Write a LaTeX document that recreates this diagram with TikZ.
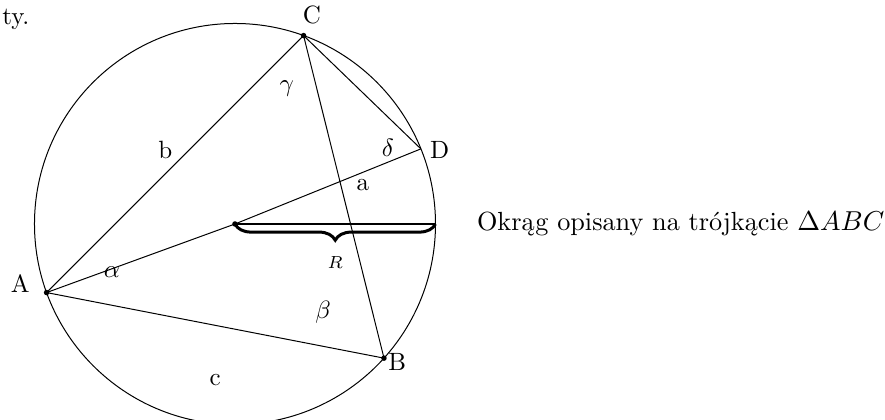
\documentclass[tikz,border=0pt]{standalone}
\usepackage{fontspec}
\usepackage{amsmath, amssymb}
\usetikzlibrary{positioning}
\usetikzlibrary{decorations.pathreplacing}

\begin{document}
\begin{tikzpicture}[
                punkt/.style = {fill=black},
                klamra/.style = {decorate, decoration={brace, mirror, amplitude=6.5pt}, very thick},
                % Styl dla etykiet katow
                kat/.style = {font=\normalsize}
                ]
                \useasboundingbox (-3.305,-2.743) rectangle (9.142,3.150);

                % --- Okrag i punkty ---
                \def\R{2.82}
                \coordinate (O) at (0,0);
                \coordinate (E) at (0:\R);
                \foreach \p/\k in {A/200, C/70, B/-42, D/22} {
                    \coordinate (\p) at (\k:\R);
                }
                \draw (O) circle (\R);

                % --- Boki trojkata ---
                \draw (A) -- (C) -- (B) -- cycle;
                \draw (C) -- (D);
                \draw (A) -- (O) -- (D);

                % --- Promien R ---
                \draw[thick] (O) -- (E);
                \draw[klamra] (O) -- (E) node[midway, below=9pt, font=\scriptsize] (r) {$R$};

                % --- Punkty ---
                \foreach \p in {A, B, C, O} {
                    \fill[punkt] (\p) circle (1.1pt);
                }

                % --- Etykiety wierzcholkow ---
                \node (etA) at (-3.02,-0.84) {A};
                \node (etB) at (2.28,-1.94) {B};
                \node (etC) at (1.08,2.94) {C};
                \node (etD) at (2.88,1.04) {D};

                % --- Boki i katy ---
                \node (bokA) at (1.80,0.55) {a};
                \node (bokB) at (-0.98,1.04) {b};
                \node (bokC) at (-0.28,-2.19) {c};
                \node[kat] (alfa) at (-1.73,-0.68) {$\alpha$};
                \node[kat] (beta) at (1.24,-1.24) {$\beta$};
                \node[kat] (gamma) at (0.73,1.91) {$\gamma$};
                \node[kat] (delta) at (2.15,1.07) {$\delta$};

                % --- Opis ---
                \node[right=4.6mm of E, font=\fontsize{10.5pt}{12.6pt}\selectfont] (opis) {Okrąg opisany na trójkącie $\Delta ABC$};
                \node[anchor=base west, inner sep=0pt] (ty) at (-3.28,2.81) {ty.};

            \end{tikzpicture}
\end{document}
